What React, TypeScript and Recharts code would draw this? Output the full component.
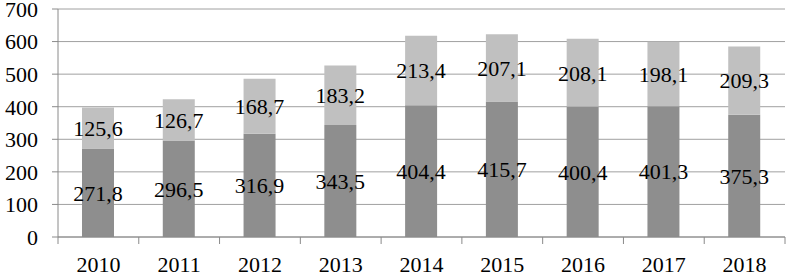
import React from 'react';
import { BarChart, Bar, XAxis, YAxis, CartesianGrid, LabelList } from 'recharts';

const years = ['2010', '2011', '2012', '2013', '2014', '2015', '2016', '2017', '2018'];
const lowerValues = [271.8, 296.5, 316.9, 343.5, 404.4, 415.7, 400.4, 401.3, 375.3];
const upperValues = [125.6, 126.7, 168.7, 183.2, 213.4, 207.1, 208.1, 198.1, 209.3];
const yTicks = [0, 100, 200, 300, 400, 500, 600, 700];

const FONT = "'Times New Roman', 'Liberation Serif', 'DejaVu Serif', serif";
const BAND = 727 / years.length;

const chartData = years.map((year, i) => ({
  year,
  lower: lowerValues[i],
  upper: upperValues[i],
}));

const fmt = (v: number) => v.toFixed(1).replace('.', ',');

// x ticks: year centered, tick marks on the band boundaries
const YearTick = (props: any) => {
  const { x, y, payload, index } = props;
  const left = x - BAND / 2;
  return (
    <g>
      <line x1={left} y1={y} x2={left} y2={y + 7} stroke="#8a8a8a" />
      {index === years.length - 1 && (
        <line x1={x + BAND / 2} y1={y} x2={x + BAND / 2} y2={y + 7} stroke="#8a8a8a" />
      )}
      <text x={x} y={y + 35} textAnchor="middle" fill="#000" fontSize={22} fontFamily={FONT}>
        {payload.value}
      </text>
    </g>
  );
};

const App: React.FC = () => {
  return (
    <div style={{ position: 'fixed', left: 0, top: 0, background: '#fff', fontFamily: FONT }}>
      <BarChart
        width={787}
        height={276}
        data={chartData}
        margin={{ top: 9, right: 2, left: 0, bottom: 0 }}
        barCategoryGap={0}
      >
        <CartesianGrid vertical={false} stroke="#a0a0a0" />
        <XAxis
          dataKey="year"
          height={39}
          axisLine={{ stroke: '#8a8a8a' }}
          tickLine={false}
          tickSize={0}
          tickMargin={0}
          interval={0}
          tick={<YearTick />}
        />
        <YAxis
          width={58}
          domain={[0, 700]}
          ticks={yTicks}
          interval={0}
          axisLine={{ stroke: '#8a8a8a' }}
          tickLine={{ stroke: '#8a8a8a' }}
          tickSize={6}
          tickMargin={14}
          tick={{ fontSize: 22, fill: '#000', fontFamily: FONT }}
        />
        <Bar dataKey="lower" stackId="a" fill="#8e8e8e" barSize={32} isAnimationActive={false}>
          <LabelList
            dataKey="lower"
            position="center"
            formatter={(v: any) => fmt(Number(v))}
            fontSize={22}
            fontFamily={FONT}
            fill="#000"
          />
        </Bar>
        <Bar dataKey="upper" stackId="a" fill="#c0c0c0" barSize={32} isAnimationActive={false}>
          <LabelList
            dataKey="upper"
            position="center"
            formatter={(v: any) => fmt(Number(v))}
            fontSize={22}
            fontFamily={FONT}
            fill="#000"
          />
        </Bar>
      </BarChart>
    </div>
  );
};

export default App;
